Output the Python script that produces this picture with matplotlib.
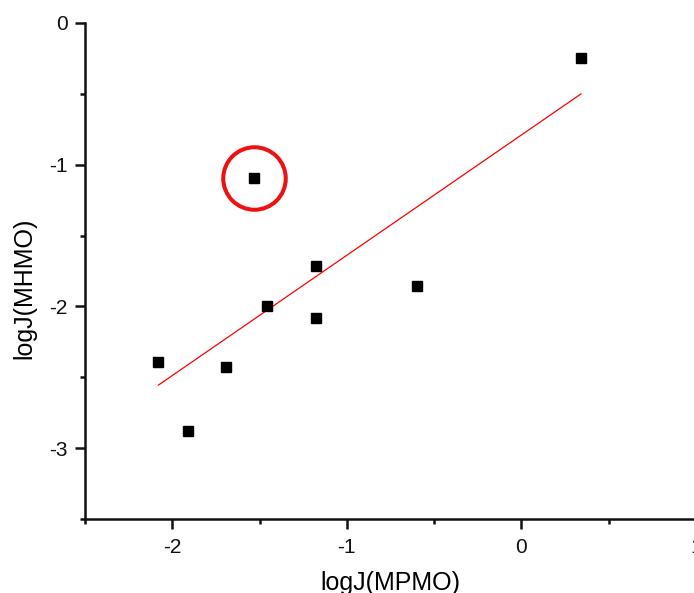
import numpy as np
import matplotlib
matplotlib.use("Agg")
import matplotlib.pyplot as plt
from matplotlib.ticker import MultipleLocator

plt.rcParams['font.family'] = ['Liberation Sans', 'DejaVu Sans']
plt.rcParams['axes.unicode_minus'] = False

# data
log_j_mpmo = [-2.080, -1.912, -1.691, -1.460, -1.179, -1.179, -0.601, -1.532, 0.341]
log_j_mhmo = [-2.392, -2.881, -2.430, -1.995, -1.715, -2.084, -1.856, -1.094, -0.249]
highlight_index = 7  # outlier circled in red

x = np.array(log_j_mpmo)
y = np.array(log_j_mhmo)

fig = plt.figure(figsize=(6.94, 5.93), dpi=100)
ax = fig.add_axes([85/694, 1-519/593, 611/694, 496/593])

# linear fit over the data range
slope, intercept = np.polyfit(x, y, 1)
xf = np.array([x.min(), x.max()])
ax.plot(xf, slope*xf + intercept, color='#ff0000', lw=0.9, zorder=2)

ax.plot(x, y, linestyle='none', marker='s', ms=7.2, color='black', zorder=3)

# red circle around the outlier
ax.plot([x[highlight_index]], [y[highlight_index]], linestyle='none', marker='o',
        ms=45, mfc='none', mec='#ee1111', mew=2.9, zorder=4, clip_on=False)

ax.set_xlim(-2.5, 1.0)
ax.set_ylim(-3.5, 0)
ax.xaxis.set_major_locator(MultipleLocator(1))
ax.xaxis.set_minor_locator(MultipleLocator(0.5))
ax.yaxis.set_major_locator(MultipleLocator(1))
ax.yaxis.set_minor_locator(MultipleLocator(0.5))

for s in ['top', 'right']:
    ax.spines[s].set_visible(False)
for s in ['left', 'bottom']:
    ax.spines[s].set_linewidth(1.8)
    ax.spines[s].set_color('#111111')

ax.tick_params(which='major', direction='out', length=7.5, width=1.8, labelsize=15,
               pad=5, colors='#111111')
ax.tick_params(which='minor', direction='out', length=3.8, width=1.8, colors='#111111')
ax.tick_params(axis='x', which='major', pad=6)

ax.set_xlabel('logJ(MPMO)', fontsize=18)
ax.set_ylabel('logJ(MHMO)', fontsize=18)
ax.xaxis.label.set_va('center')
ax.yaxis.label.set_va('center')
ax.xaxis.set_label_coords((390-85)/611, (519-583)/496)
ax.yaxis.set_label_coords((24-85)/611, (519-288)/496)

fig.savefig('out.png', dpi=100)
